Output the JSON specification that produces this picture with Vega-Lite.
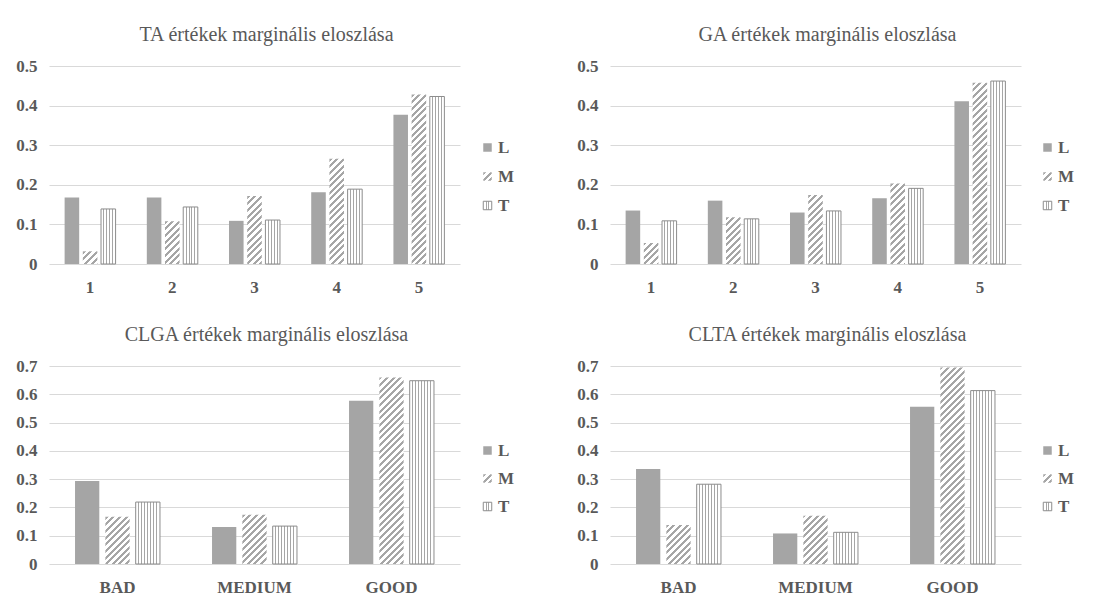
{
"$schema": "https://vega.github.io/schema/vega-lite/v6.json",
"background": "white",
"padding": {"left": 15, "top": 25, "right": 5, "bottom": 5},
"params": [
{"name": "hs", "value": [
{"offset":0,"color":"#a6a6a6"},{"offset":0.0125,"color":"#a6a6a6"},{"offset":0.0125,"color":"#ffffff"},{"offset":0.0278,"color":"#ffffff"},
{"offset":0.0278,"color":"#a6a6a6"},{"offset":0.0403,"color":"#a6a6a6"},{"offset":0.0403,"color":"#ffffff"},{"offset":0.0556,"color":"#ffffff"},
{"offset":0.0556,"color":"#a6a6a6"},{"offset":0.0681,"color":"#a6a6a6"},{"offset":0.0681,"color":"#ffffff"},{"offset":0.0833,"color":"#ffffff"},
{"offset":0.0833,"color":"#a6a6a6"},{"offset":0.0958,"color":"#a6a6a6"},{"offset":0.0958,"color":"#ffffff"},{"offset":0.1111,"color":"#ffffff"},
{"offset":0.1111,"color":"#a6a6a6"},{"offset":0.1236,"color":"#a6a6a6"},{"offset":0.1236,"color":"#ffffff"},{"offset":0.1389,"color":"#ffffff"},
{"offset":0.1389,"color":"#a6a6a6"},{"offset":0.1514,"color":"#a6a6a6"},{"offset":0.1514,"color":"#ffffff"},{"offset":0.1667,"color":"#ffffff"},
{"offset":0.1667,"color":"#a6a6a6"},{"offset":0.1792,"color":"#a6a6a6"},{"offset":0.1792,"color":"#ffffff"},{"offset":0.1944,"color":"#ffffff"},
{"offset":0.1944,"color":"#a6a6a6"},{"offset":0.2069,"color":"#a6a6a6"},{"offset":0.2069,"color":"#ffffff"},{"offset":0.2222,"color":"#ffffff"},
{"offset":0.2222,"color":"#a6a6a6"},{"offset":0.2347,"color":"#a6a6a6"},{"offset":0.2347,"color":"#ffffff"},{"offset":0.25,"color":"#ffffff"},
{"offset":0.25,"color":"#a6a6a6"},{"offset":0.2625,"color":"#a6a6a6"},{"offset":0.2625,"color":"#ffffff"},{"offset":0.2778,"color":"#ffffff"},
{"offset":0.2778,"color":"#a6a6a6"},{"offset":0.2903,"color":"#a6a6a6"},{"offset":0.2903,"color":"#ffffff"},{"offset":0.3056,"color":"#ffffff"},
{"offset":0.3056,"color":"#a6a6a6"},{"offset":0.3181,"color":"#a6a6a6"},{"offset":0.3181,"color":"#ffffff"},{"offset":0.3333,"color":"#ffffff"},
{"offset":0.3333,"color":"#a6a6a6"},{"offset":0.3458,"color":"#a6a6a6"},{"offset":0.3458,"color":"#ffffff"},{"offset":0.3611,"color":"#ffffff"},
{"offset":0.3611,"color":"#a6a6a6"},{"offset":0.3736,"color":"#a6a6a6"},{"offset":0.3736,"color":"#ffffff"},{"offset":0.3889,"color":"#ffffff"},
{"offset":0.3889,"color":"#a6a6a6"},{"offset":0.4014,"color":"#a6a6a6"},{"offset":0.4014,"color":"#ffffff"},{"offset":0.4167,"color":"#ffffff"},
{"offset":0.4167,"color":"#a6a6a6"},{"offset":0.4292,"color":"#a6a6a6"},{"offset":0.4292,"color":"#ffffff"},{"offset":0.4444,"color":"#ffffff"},
{"offset":0.4444,"color":"#a6a6a6"},{"offset":0.4569,"color":"#a6a6a6"},{"offset":0.4569,"color":"#ffffff"},{"offset":0.4722,"color":"#ffffff"},
{"offset":0.4722,"color":"#a6a6a6"},{"offset":0.4847,"color":"#a6a6a6"},{"offset":0.4847,"color":"#ffffff"},{"offset":0.5,"color":"#ffffff"},
{"offset":0.5,"color":"#a6a6a6"},{"offset":0.5125,"color":"#a6a6a6"},{"offset":0.5125,"color":"#ffffff"},{"offset":0.5278,"color":"#ffffff"},
{"offset":0.5278,"color":"#a6a6a6"},{"offset":0.5403,"color":"#a6a6a6"},{"offset":0.5403,"color":"#ffffff"},{"offset":0.5556,"color":"#ffffff"},
{"offset":0.5556,"color":"#a6a6a6"},{"offset":0.5681,"color":"#a6a6a6"},{"offset":0.5681,"color":"#ffffff"},{"offset":0.5833,"color":"#ffffff"},
{"offset":0.5833,"color":"#a6a6a6"},{"offset":0.5958,"color":"#a6a6a6"},{"offset":0.5958,"color":"#ffffff"},{"offset":0.6111,"color":"#ffffff"},
{"offset":0.6111,"color":"#a6a6a6"},{"offset":0.6236,"color":"#a6a6a6"},{"offset":0.6236,"color":"#ffffff"},{"offset":0.6389,"color":"#ffffff"},
{"offset":0.6389,"color":"#a6a6a6"},{"offset":0.6514,"color":"#a6a6a6"},{"offset":0.6514,"color":"#ffffff"},{"offset":0.6667,"color":"#ffffff"},
{"offset":0.6667,"color":"#a6a6a6"},{"offset":0.6792,"color":"#a6a6a6"},{"offset":0.6792,"color":"#ffffff"},{"offset":0.6944,"color":"#ffffff"},
{"offset":0.6944,"color":"#a6a6a6"},{"offset":0.7069,"color":"#a6a6a6"},{"offset":0.7069,"color":"#ffffff"},{"offset":0.7222,"color":"#ffffff"},
{"offset":0.7222,"color":"#a6a6a6"},{"offset":0.7347,"color":"#a6a6a6"},{"offset":0.7347,"color":"#ffffff"},{"offset":0.75,"color":"#ffffff"},
{"offset":0.75,"color":"#a6a6a6"},{"offset":0.7625,"color":"#a6a6a6"},{"offset":0.7625,"color":"#ffffff"},{"offset":0.7778,"color":"#ffffff"},
{"offset":0.7778,"color":"#a6a6a6"},{"offset":0.7903,"color":"#a6a6a6"},{"offset":0.7903,"color":"#ffffff"},{"offset":0.8056,"color":"#ffffff"},
{"offset":0.8056,"color":"#a6a6a6"},{"offset":0.8181,"color":"#a6a6a6"},{"offset":0.8181,"color":"#ffffff"},{"offset":0.8333,"color":"#ffffff"},
{"offset":0.8333,"color":"#a6a6a6"},{"offset":0.8458,"color":"#a6a6a6"},{"offset":0.8458,"color":"#ffffff"},{"offset":0.8611,"color":"#ffffff"},
{"offset":0.8611,"color":"#a6a6a6"},{"offset":0.8736,"color":"#a6a6a6"},{"offset":0.8736,"color":"#ffffff"},{"offset":0.8889,"color":"#ffffff"},
{"offset":0.8889,"color":"#a6a6a6"},{"offset":0.9014,"color":"#a6a6a6"},{"offset":0.9014,"color":"#ffffff"},{"offset":0.9167,"color":"#ffffff"},
{"offset":0.9167,"color":"#a6a6a6"},{"offset":0.9292,"color":"#a6a6a6"},{"offset":0.9292,"color":"#ffffff"},{"offset":0.9444,"color":"#ffffff"},
{"offset":0.9444,"color":"#a6a6a6"},{"offset":0.9569,"color":"#a6a6a6"},{"offset":0.9569,"color":"#ffffff"},{"offset":0.9722,"color":"#ffffff"},
{"offset":0.9722,"color":"#a6a6a6"},{"offset":0.9847,"color":"#a6a6a6"},{"offset":0.9847,"color":"#ffffff"},{"offset":1,"color":"#ffffff"}
]},
{"name": "vs5", "value": [
{"offset":0,"color":"#ffffff"},{"offset":0.165,"color":"#ffffff"},{"offset":0.165,"color":"#a6a6a6"},{"offset":0.235,"color":"#a6a6a6"},
{"offset":0.235,"color":"#ffffff"},{"offset":0.365,"color":"#ffffff"},{"offset":0.365,"color":"#a6a6a6"},{"offset":0.435,"color":"#a6a6a6"},
{"offset":0.435,"color":"#ffffff"},{"offset":0.565,"color":"#ffffff"},{"offset":0.565,"color":"#a6a6a6"},{"offset":0.635,"color":"#a6a6a6"},
{"offset":0.635,"color":"#ffffff"},{"offset":0.765,"color":"#ffffff"},{"offset":0.765,"color":"#a6a6a6"},{"offset":0.835,"color":"#a6a6a6"},
{"offset":0.835,"color":"#ffffff"},{"offset":1,"color":"#ffffff"}
]},
{"name": "vs8", "value": [
{"offset":0,"color":"#ffffff"},{"offset":0.104,"color":"#ffffff"},{"offset":0.104,"color":"#a6a6a6"},{"offset":0.146,"color":"#a6a6a6"},
{"offset":0.146,"color":"#ffffff"},{"offset":0.229,"color":"#ffffff"},{"offset":0.229,"color":"#a6a6a6"},{"offset":0.271,"color":"#a6a6a6"},
{"offset":0.271,"color":"#ffffff"},{"offset":0.354,"color":"#ffffff"},{"offset":0.354,"color":"#a6a6a6"},{"offset":0.396,"color":"#a6a6a6"},
{"offset":0.396,"color":"#ffffff"},{"offset":0.479,"color":"#ffffff"},{"offset":0.479,"color":"#a6a6a6"},{"offset":0.521,"color":"#a6a6a6"},
{"offset":0.521,"color":"#ffffff"},{"offset":0.604,"color":"#ffffff"},{"offset":0.604,"color":"#a6a6a6"},{"offset":0.646,"color":"#a6a6a6"},
{"offset":0.646,"color":"#ffffff"},{"offset":0.729,"color":"#ffffff"},{"offset":0.729,"color":"#a6a6a6"},{"offset":0.771,"color":"#a6a6a6"},
{"offset":0.771,"color":"#ffffff"},{"offset":0.854,"color":"#ffffff"},{"offset":0.854,"color":"#a6a6a6"},{"offset":0.896,"color":"#a6a6a6"},
{"offset":0.896,"color":"#ffffff"},{"offset":1,"color":"#ffffff"}
]},
{"name": "vs3", "value": [
{"offset":0,"color":"#ffffff"},{"offset":0.3,"color":"#ffffff"},{"offset":0.3,"color":"#a6a6a6"},{"offset":0.42,"color":"#a6a6a6"},
{"offset":0.42,"color":"#ffffff"},{"offset":0.58,"color":"#ffffff"},{"offset":0.58,"color":"#a6a6a6"},{"offset":0.7,"color":"#a6a6a6"},
{"offset":0.7,"color":"#ffffff"},{"offset":1,"color":"#ffffff"}
]}
],
"datasets": {
"ta": [
{"c":"1","s":"L","v":0.168},{"c":"1","s":"M","v":0.032},{"c":"1","s":"T","v":0.139},
{"c":"2","s":"L","v":0.168},{"c":"2","s":"M","v":0.108},{"c":"2","s":"T","v":0.144},
{"c":"3","s":"L","v":0.109},{"c":"3","s":"M","v":0.172},{"c":"3","s":"T","v":0.111},
{"c":"4","s":"L","v":0.181},{"c":"4","s":"M","v":0.266},{"c":"4","s":"T","v":0.189},
{"c":"5","s":"L","v":0.377},{"c":"5","s":"M","v":0.428},{"c":"5","s":"T","v":0.423}
],
"ga": [
{"c":"1","s":"L","v":0.135},{"c":"1","s":"M","v":0.053},{"c":"1","s":"T","v":0.109},
{"c":"2","s":"L","v":0.160},{"c":"2","s":"M","v":0.118},{"c":"2","s":"T","v":0.114},
{"c":"3","s":"L","v":0.130},{"c":"3","s":"M","v":0.174},{"c":"3","s":"T","v":0.134},
{"c":"4","s":"L","v":0.166},{"c":"4","s":"M","v":0.203},{"c":"4","s":"T","v":0.191},
{"c":"5","s":"L","v":0.411},{"c":"5","s":"M","v":0.458},{"c":"5","s":"T","v":0.462}
],
"clga": [
{"c":"BAD","s":"L","v":0.293},{"c":"BAD","s":"M","v":0.167},{"c":"BAD","s":"T","v":0.219},
{"c":"MEDIUM","s":"L","v":0.131},{"c":"MEDIUM","s":"M","v":0.174},{"c":"MEDIUM","s":"T","v":0.134},
{"c":"GOOD","s":"L","v":0.577},{"c":"GOOD","s":"M","v":0.659},{"c":"GOOD","s":"T","v":0.648}
],
"clta": [
{"c":"BAD","s":"L","v":0.336},{"c":"BAD","s":"M","v":0.138},{"c":"BAD","s":"T","v":0.282},
{"c":"MEDIUM","s":"L","v":0.108},{"c":"MEDIUM","s":"M","v":0.171},{"c":"MEDIUM","s":"T","v":0.112},
{"c":"GOOD","s":"L","v":0.556},{"c":"GOOD","s":"M","v":0.695},{"c":"GOOD","s":"T","v":0.613}
]
},
"config": {
"view": {"stroke": null},
"font": "Liberation Serif",
"title": {"font": "Liberation Serif", "fontSize": 20, "fontWeight": "normal", "color": "#595959", "anchor": "middle", "dx": 12, "offset": 12, "baseline": "alphabetic"},
"axis": {"labelFont": "Liberation Serif", "labelFontWeight": "bold", "labelFontSize": 17, "labelColor": "#595959", "ticks": false, "tickSize": 0, "domain": false, "gridColor": "#d9d9d9", "gridWidth": 1, "title": null},
"axisX": {"grid": false, "labelPadding": 15, "labelAngle": 0},
"axisY": {"grid": true, "labelPadding": 12, "format": "~g"},
"legend": {"symbolType": "square", "symbolSize": 72, "symbolStrokeWidth": 1, "labelFont": "Liberation Serif", "labelFontSize": 17, "labelFontWeight": "bold", "labelColor": "#595959", "labelOffset": 2, "padding": 0, "title": null}
},
"columns": 2,
"spacing": {"row": 102, "column": 150},
"bounds": "flush",
"resolve": {"scale": {"x": "independent", "y": "independent", "xOffset": "independent", "fill": "independent", "stroke": "independent"}, "legend": {"fill": "independent", "stroke": "independent"}},
"concat": [
{
"width": 411, "height": 198,
"title": "TA értékek marginális eloszlása",
"data": {"name": "ta"},
"mark": {"type": "bar", "strokeWidth": 1},
"encoding": {
"x": {"field": "c", "type": "nominal", "sort": null, "title": null, "scale": {"paddingInner": 0.38, "paddingOuter": 0.19}},
"xOffset": {"field": "s", "type": "nominal", "sort": ["L","M","T"], "scale": {"paddingInner": 0.2, "paddingOuter": 0}},
"y": {"field": "v", "type": "quantitative", "title": null, "scale": {"domain": [0, 0.5], "nice": false}, "axis": {"values": [0, 0.1, 0.2, 0.3, 0.4, 0.5]}},
"fill": {"field": "s", "type": "nominal",
"scale": {"domain": ["L","M","T"], "range": ["#a5a5a5", {"expr": "{gradient:'linear',x1:0,y1:0,x2:14,y2:14,stops:hs}"}, {"expr": "{gradient:'linear',x1:0,y1:0,x2:1,y2:0,stops:vs3}"}]},
"legend": {"orient": "none", "legendX": 430, "legendY": 73, "rowPadding": 11},
"condition": [
{"test": "datum.s==='M'", "value": {"expr": "{gradient:'linear',x1:0,y1:0,x2:14.56*239.3/(212+pow(datum.v*396,2)),y2:datum.v*396*239.3/(212+pow(datum.v*396,2)),stops:hs}"}},
{"test": "datum.s==='T'", "value": {"expr": "{gradient:'linear',x1:0,y1:0,x2:1,y2:0,stops:vs5}"}}
]},
"stroke": {"field": "s", "type": "nominal",
"scale": {"domain": ["L","M","T"], "range": ["transparent","transparent","#8c8c8c"]},
"legend": {"orient": "none", "legendX": 430, "legendY": 73, "rowPadding": 11}}
}
},
{
"width": 411, "height": 198,
"title": "GA értékek marginális eloszlása",
"data": {"name": "ga"},
"mark": {"type": "bar", "strokeWidth": 1},
"encoding": {
"x": {"field": "c", "type": "nominal", "sort": null, "title": null, "scale": {"paddingInner": 0.38, "paddingOuter": 0.19}},
"xOffset": {"field": "s", "type": "nominal", "sort": ["L","M","T"], "scale": {"paddingInner": 0.2, "paddingOuter": 0}},
"y": {"field": "v", "type": "quantitative", "title": null, "scale": {"domain": [0, 0.5], "nice": false}, "axis": {"values": [0, 0.1, 0.2, 0.3, 0.4, 0.5]}},
"fill": {"field": "s", "type": "nominal",
"scale": {"domain": ["L","M","T"], "range": ["#a5a5a5", {"expr": "{gradient:'linear',x1:0,y1:0,x2:14,y2:14,stops:hs}"}, {"expr": "{gradient:'linear',x1:0,y1:0,x2:1,y2:0,stops:vs3}"}]},
"legend": {"orient": "none", "legendX": 429, "legendY": 73, "rowPadding": 11},
"condition": [
{"test": "datum.s==='M'", "value": {"expr": "{gradient:'linear',x1:0,y1:0,x2:14.56*239.3/(212+pow(datum.v*396,2)),y2:datum.v*396*239.3/(212+pow(datum.v*396,2)),stops:hs}"}},
{"test": "datum.s==='T'", "value": {"expr": "{gradient:'linear',x1:0,y1:0,x2:1,y2:0,stops:vs5}"}}
]},
"stroke": {"field": "s", "type": "nominal",
"scale": {"domain": ["L","M","T"], "range": ["transparent","transparent","#8c8c8c"]},
"legend": {"orient": "none", "legendX": 429, "legendY": 73, "rowPadding": 11}}
}
},
{
"width": 411, "height": 198,
"title": "CLGA értékek marginális eloszlása",
"data": {"name": "clga"},
"mark": {"type": "bar", "strokeWidth": 1},
"encoding": {
"x": {"field": "c", "type": "nominal", "sort": null, "title": null, "scale": {"paddingInner": 0.38, "paddingOuter": 0.19}},
"xOffset": {"field": "s", "type": "nominal", "sort": ["L","M","T"], "scale": {"paddingInner": 0.2, "paddingOuter": 0}},
"y": {"field": "v", "type": "quantitative", "title": null, "scale": {"domain": [0, 0.7], "nice": false}, "axis": {"values": [0, 0.1, 0.2, 0.3, 0.4, 0.5, 0.6, 0.7]}},
"fill": {"field": "s", "type": "nominal",
"scale": {"domain": ["L","M","T"], "range": ["#a5a5a5", {"expr": "{gradient:'linear',x1:0,y1:0,x2:14,y2:14,stops:hs}"}, {"expr": "{gradient:'linear',x1:0,y1:0,x2:1,y2:0,stops:vs3}"}]},
"legend": {"orient": "none", "legendX": 430, "legendY": 76, "rowPadding": 10},
"condition": [
{"test": "datum.s==='M'", "value": {"expr": "{gradient:'linear',x1:0,y1:0,x2:24.27*239.3/(589+pow(datum.v*282.86,2)),y2:datum.v*282.86*239.3/(589+pow(datum.v*282.86,2)),stops:hs}"}},
{"test": "datum.s==='T'", "value": {"expr": "{gradient:'linear',x1:0,y1:0,x2:1,y2:0,stops:vs8}"}}
]},
"stroke": {"field": "s", "type": "nominal",
"scale": {"domain": ["L","M","T"], "range": ["transparent","transparent","#8c8c8c"]},
"legend": {"orient": "none", "legendX": 430, "legendY": 76, "rowPadding": 10}}
}
},
{
"width": 411, "height": 198,
"title": "CLTA értékek marginális eloszlása",
"data": {"name": "clta"},
"mark": {"type": "bar", "strokeWidth": 1},
"encoding": {
"x": {"field": "c", "type": "nominal", "sort": null, "title": null, "scale": {"paddingInner": 0.38, "paddingOuter": 0.19}},
"xOffset": {"field": "s", "type": "nominal", "sort": ["L","M","T"], "scale": {"paddingInner": 0.2, "paddingOuter": 0}},
"y": {"field": "v", "type": "quantitative", "title": null, "scale": {"domain": [0, 0.7], "nice": false}, "axis": {"values": [0, 0.1, 0.2, 0.3, 0.4, 0.5, 0.6, 0.7]}},
"fill": {"field": "s", "type": "nominal",
"scale": {"domain": ["L","M","T"], "range": ["#a5a5a5", {"expr": "{gradient:'linear',x1:0,y1:0,x2:14,y2:14,stops:hs}"}, {"expr": "{gradient:'linear',x1:0,y1:0,x2:1,y2:0,stops:vs3}"}]},
"legend": {"orient": "none", "legendX": 429, "legendY": 76, "rowPadding": 10},
"condition": [
{"test": "datum.s==='M'", "value": {"expr": "{gradient:'linear',x1:0,y1:0,x2:24.27*239.3/(589+pow(datum.v*282.86,2)),y2:datum.v*282.86*239.3/(589+pow(datum.v*282.86,2)),stops:hs}"}},
{"test": "datum.s==='T'", "value": {"expr": "{gradient:'linear',x1:0,y1:0,x2:1,y2:0,stops:vs8}"}}
]},
"stroke": {"field": "s", "type": "nominal",
"scale": {"domain": ["L","M","T"], "range": ["transparent","transparent","#8c8c8c"]},
"legend": {"orient": "none", "legendX": 429, "legendY": 76, "rowPadding": 10}}
}
}
]
}
